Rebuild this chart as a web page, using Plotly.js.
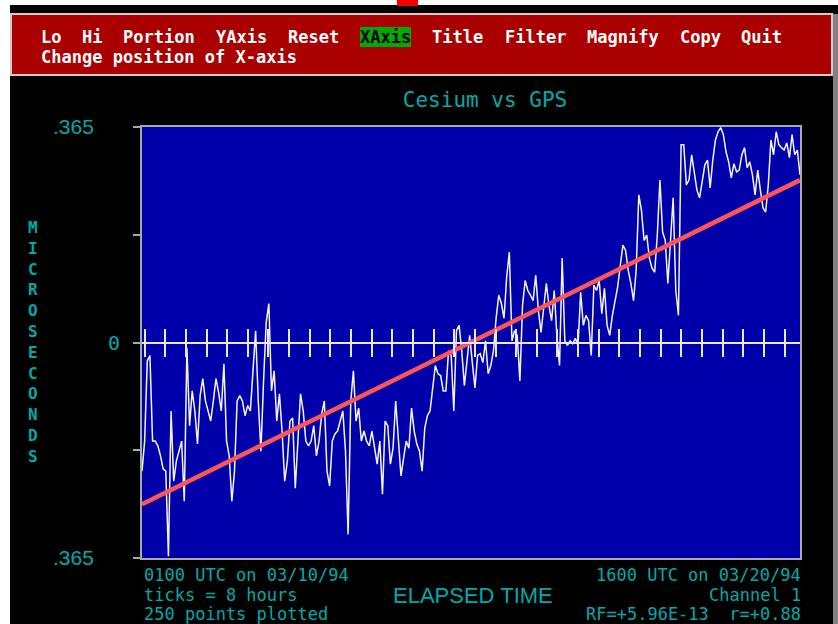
<!DOCTYPE html>
<html><head><meta charset="utf-8">
<script src="https://cdn.plot.ly/plotly-3.0.1.min.js"></script>
<style>html,body{margin:0;padding:0;background:#fff;overflow:hidden}#chart{width:838px;height:624px}</style>
</head><body><div id="chart"></div>
<script>
// ---- data (microseconds, 250 samples) ----
const offsetMicroseconds = [
-0.218,-0.167,-0.031,-0.022,-0.167,-0.167,-0.175,-0.192,-0.214,-0.218,
-0.362,-0.116,-0.235,-0.201,-0.184,-0.167,-0.269,-0.009,-0.141,-0.082,
-0.116,-0.172,-0.090,-0.061,-0.099,-0.116,-0.133,-0.099,-0.061,-0.085,
-0.116,-0.036,-0.167,-0.192,-0.269,-0.218,-0.099,-0.090,-0.099,-0.124,
-0.107,-0.116,-0.039,0.020,-0.099,-0.184,-0.065,0.034,0.066,-0.082,
-0.048,-0.133,-0.087,-0.150,-0.235,-0.201,-0.133,-0.128,-0.247,-0.167,
-0.087,-0.116,-0.167,-0.175,
-0.167,-0.141,-0.192,-0.167,-0.121,-0.099,-0.218,-0.243,-0.167,-0.155,
-0.150,-0.133,-0.116,-0.184,-0.325,-0.099,-0.048,-0.133,-0.111,-0.167,
-0.150,-0.167,-0.175,-0.150,-0.175,-0.206,-0.167,-0.257,-0.133,-0.141,
-0.206,-0.179,-0.099,-0.162,-0.226,-0.196,-0.167,-0.179,-0.111,-0.150,
-0.172,-0.184,-0.218,-0.145,-0.124,-0.116,-0.073,-0.039,-0.053,-0.056,
-0.082,-0.082,-0.014,-0.022,-0.116,0.020,0.029,-0.014,-0.073,-0.031,
0.012,-0.034,
-0.077,-0.022,-0.019,-0.034,0.003,-0.053,-0.039,-0.014,0.041,0.080,
0.066,0.041,0.111,0.153,0.003,0.020,0.012,-0.065,0.063,0.105,
0.088,0.080,0.071,0.114,0.054,0.017,0.063,0.100,0.063,0.037,
0.088,0.012,-0.039,0.143,0.003,-0.005,0.003,-0.002,0.007,-0.005,
0.085,0.029,0.046,0.037,-0.022,0.097,0.088,0.105,0.049,0.092,
0.029,0.012,0.046,0.071,0.094,0.131,0.165,0.156,0.122,0.100,
0.071,0.122,
0.250,0.224,0.173,0.182,0.143,0.126,0.119,0.182,0.275,0.187,
0.173,0.100,0.165,0.245,0.088,0.046,0.335,0.335,0.267,0.275,
0.318,0.289,0.258,0.245,0.275,0.301,0.309,0.262,0.309,0.343,
0.357,0.364,0.352,0.323,0.306,0.279,0.303,0.289,0.292,0.318,
0.330,0.296,0.306,0.284,0.250,0.292,0.258,0.228,0.221,0.267,
0.343,0.318,0.357,0.335,0.330,0.326,0.338,0.313,0.352,0.318,
0.326,0.284
];
const spanHours = 255;              // 0100 UTC 03/10/94 -> 1600 UTC 03/20/94
const tickStepHours = 8;
const firstTickHour = 1;
const fitHours = [0, 255];
const fitMicroseconds = [-0.274, 0.275];
const yRangeMicroseconds = 0.365;
const yTickValues = [-0.365, -0.1825, 0, 0.1825, 0.365];
const yTickLabels = ['.365', '0', '.365'];
const yTickLabelValues = [0.365, 0, -0.365];
const menuItems = ['Lo','Hi','Portion','YAxis','Reset','XAxis','Title','Filter','Magnify','Copy','Quit'];
const activeItem = 'XAxis';
const helpText = 'Change position of X-axis';
const chartTitle = 'Cesium vs GPS';
const yTitle = 'MICROSECONDS';
const footLeft = ['0100 UTC on 03/10/94', 'ticks = 8 hours', '250 points plotted'];
const footRight = ['1600 UTC on 03/20/94', 'Channel 1', 'RF=+5.96E-13  r=+0.88'];
const footCenter = 'ELAPSED TIME';

// ---- geometry helpers ----
const W = 838, H = 624, L = 142, R = 800, T = 127, B = 558;
const px = X => (X - L) / (R - L);
const py = Y => (B - Y) / (B - T);
const TEAL = '#00aaaa';
const MONO = 'DejaVu Sans Mono';
const SANS = 'Liberation Sans';

const n = offsetMicroseconds.length;
const hours = offsetMicroseconds.map((_, i) => i * spanHours / (n - 1));
const tickHours = [];
for (let h = firstTickHour; h <= spanHours; h += tickStepHours) tickHours.push(h);

const annotations = [];
function ann(text, X, Y, o) {
  annotations.push(Object.assign({
    text: text, x: px(X), y: py(Y), xref: 'paper', yref: 'paper',
    showarrow: false, borderpad: 0, xanchor: 'left', yanchor: 'middle',
    font: {family: MONO, size: 17, color: TEAL}
  }, o || {}));
}

// menu words
const charW = 10.3;
let idx = 0;
menuItems.forEach(w => {
  ann(w, 40 + idx * charW, 37, {font: {family: MONO, size: 17, weight: 'bold', color: w === activeItem ? '#000000' : '#ffffff'}});
  idx += w.length + 2;
});
ann(helpText, 40, 57, {font: {family: MONO, size: 17, weight: 'bold', color: '#ffffff'}});

// stacked y title (one text, one letter per line)
ann(yTitle.split('').join('<br>'), 33, 342, {xanchor: 'center', font: {family: MONO, size: 16, weight: 'bold', color: TEAL}});

// y tick labels
yTickLabels.forEach((t, k) => {
  const Y = B - (yTickLabelValues[k] + yRangeMicroseconds) / (2 * yRangeMicroseconds) * (B - T);
  if (t === '0') ann(t, 121, Y, {xanchor: 'right', font: {family: MONO, size: 20, color: TEAL}});
  else ann(t, 95, Y - 1, {xanchor: 'right', font: {family: SANS, size: 21, color: TEAL}});
});

// footer
footLeft.forEach((t, k) => ann(t, 143, 575 + k * 19.5));
footRight.forEach((t, k) => ann(t, 802, 575 + k * 19.5, {xanchor: 'right'}));
ann(footCenter, 473, 595, {xanchor: 'center', font: {family: SANS, size: 22, color: TEAL}});

function rect(x0, y0, x1, y1, fill, line) {
  return {type: 'rect', xref: 'paper', yref: 'paper', x0: px(x0), x1: px(x1), y0: py(y1), y1: py(y0),
          fillcolor: fill, line: line || {width: 0}, layer: 'above'};
}
const shapes = [
  rect(0, 0, 10, H, '#ffffff'),
  rect(0, 0, W, 5, '#ffffff'),
  rect(397, 0, 418, 6, '#f00000'),
  rect(833, 14, W, H, '#808080'),
  rect(11, 14, 832, 75, '#aa0000', {color: '#d8c8c8', width: 2}),
  rect(360, 27, 411, 47, '#00aa00')
];

const traces = [
  {x: hours, y: offsetMicroseconds, type: 'scatter', mode: 'lines', line: {color: '#f4f4ff', width: 1.5}, hoverinfo: 'skip'},
  {x: fitHours, y: fitMicroseconds, type: 'scatter', mode: 'lines', line: {color: '#ff5555', width: 4.5}, hoverinfo: 'skip'},
  {x: [], y: [], xaxis: 'x2', type: 'scatter'},
  {x: [], y: [], xaxis: 'x3', type: 'scatter'}
];

const zeroAxis = {
  overlaying: 'x', anchor: 'free', position: 0.5, side: 'bottom', range: [0, spanHours],
  tickmode: 'array', tickvals: tickHours, ticklen: 13, tickwidth: 2, tickcolor: '#e8e8ff',
  showline: true, linecolor: '#e8e8ff', linewidth: 2, showticklabels: false,
  showgrid: false, zeroline: false, fixedrange: true
};

const layout = {
  width: W, height: H, autosize: false,
  margin: {l: L, r: W - R, t: T, b: H - B, pad: 0},
  paper_bgcolor: '#000000', plot_bgcolor: '#0000aa',
  showlegend: false,
  title: {text: chartTitle, font: {family: MONO, size: 21, color: TEAL},
          xref: 'container', yref: 'container', x: 485 / W, y: 1 - 100 / H, xanchor: 'center', yanchor: 'middle'},
  xaxis: {range: [0, spanHours], showline: true, mirror: true, linecolor: '#aaaaaa', linewidth: 2,
          ticks: '', showticklabels: false, showgrid: false, zeroline: false, fixedrange: true},
  xaxis2: Object.assign({}, zeroAxis, {ticks: 'outside'}),
  xaxis3: Object.assign({}, zeroAxis, {ticks: 'inside'}),
  yaxis: {range: [-yRangeMicroseconds, yRangeMicroseconds], tickmode: 'array', tickvals: yTickValues,
          ticks: 'outside', ticklen: 7, tickwidth: 2, tickcolor: '#aaaaaa', showticklabels: false,
          showline: true, mirror: true, linecolor: '#aaaaaa', linewidth: 2,
          showgrid: false, zeroline: false, fixedrange: true},
  shapes: shapes,
  annotations: annotations
};

Plotly.newPlot('chart', traces, layout, {staticPlot: true, displayModeBar: false});
</script>
</body></html>
